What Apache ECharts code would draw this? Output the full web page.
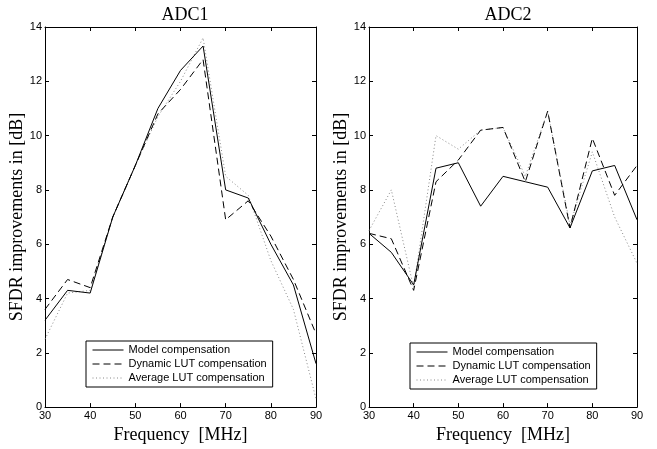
<!DOCTYPE html>
<html>
<head>
<meta charset="utf-8">
<script src="https://cdn.jsdelivr.net/npm/echarts@6/dist/echarts.min.js"></script>
<style>
  html, body { margin: 0; padding: 0; background: #fff; }
  #chart { width: 657px; height: 449px; }
</style>
</head>
<body>
<div id="chart"></div>
<script>
// Frequencies (MHz) at which SFDR improvement was measured
const freqs = [30, 35, 40, 45, 50, 55, 60, 65, 70, 75, 80, 85, 90];

// ADC1 SFDR improvements [dB]
const adc1Model   = [3.2, 4.3, 4.2, 7.0, 8.9, 11.0, 12.4, 13.3, 8.0, 7.7, 6.0, 4.5, 1.6];
const adc1Dynamic = [3.6, 4.7, 4.4, 7.0, 8.9, 10.8, 11.7, 12.8, 6.9, 7.6, 6.3, 4.7, 2.7];
const adc1Average = [2.5, 4.2, 4.3, 7.0, 8.9, 10.7, 12.0, 13.6, 8.5, 7.8, 5.4, 3.6, 0.3];

// ADC2 SFDR improvements [dB]
const adc2Model   = [6.4, 5.7, 4.5, 8.8, 9.0, 7.4, 8.5, 8.3, 8.1, 6.6, 8.7, 8.9, 6.9];
const adc2Dynamic = [6.4, 6.2, 4.3, 8.3, 9.1, 10.2, 10.3, 8.3, 10.9, 6.6, 9.9, 7.8, 8.9];
const adc2Average = [6.5, 8.0, 4.4, 10.0, 9.5, 10.2, 10.3, 8.5, 10.9, 6.7, 9.4, 7.0, 5.3];

const seriesNames = ['Model compensation', 'Dynamic LUT compensation', 'Average LUT compensation'];
const titles = ['ADC1', 'ADC2'];
const xName = 'Frequency  [MHz]';
const yName = 'SFDR improvements in [dB]';

const serif = 'Liberation Serif, Times New Roman, serif';
const sans = 'Liberation Sans, Arial, sans-serif';

const lineStyles = [
  { color: '#000', width: 1, type: 'solid' },
  { color: '#000', width: 1, type: [7, 4] },
  { color: '#888', width: 1, type: [1, 2.5] }
];

const grids = [
  { left: 45, right: 341, top: 27, bottom: 39 },
  { left: 369, right: 20, top: 27, bottom: 39 }
];

const xAxes = [], yAxes = [];
grids.forEach((g, i) => {
  // bottom axis with labels
  xAxes.push({
    type: 'value', gridIndex: i, min: 30, max: 90, interval: 10, position: 'bottom',
    name: xName, nameLocation: 'middle', nameGap: 12,
    nameTextStyle: { fontFamily: serif, fontSize: 18, color: '#000' },
    axisLine: { show: true, onZero: false, lineStyle: { color: '#000', width: 1 } },
    axisTick: { show: true, inside: true, length: 4, lineStyle: { color: '#000' } },
    axisLabel: { fontFamily: sans, fontSize: 11, color: '#000', margin: 3 },
    splitLine: { show: false }
  });
  // top box edge with ticks
  xAxes.push({
    type: 'value', gridIndex: i, min: 30, max: 90, interval: 10, position: 'top',
    axisLine: { show: true, onZero: false, lineStyle: { color: '#000', width: 1 } },
    axisTick: { show: true, inside: true, length: 4, lineStyle: { color: '#000' } },
    axisLabel: { show: false }, splitLine: { show: false }
  });
  yAxes.push({
    type: 'value', gridIndex: i, min: 0, max: 14, interval: 2, position: 'left',
    name: yName, nameLocation: 'middle', nameGap: 16, nameRotate: 90,
    nameTextStyle: { fontFamily: serif, fontSize: 18, color: '#000' },
    axisLine: { show: true, onZero: false, lineStyle: { color: '#000', width: 1 } },
    axisTick: { show: true, inside: true, length: 4, lineStyle: { color: '#000' } },
    axisLabel: { fontFamily: sans, fontSize: 11, color: '#000', margin: 3 },
    splitLine: { show: false }
  });
  // right box edge with ticks
  yAxes.push({
    type: 'value', gridIndex: i, min: 0, max: 14, interval: 2, position: 'right',
    axisLine: { show: true, onZero: false, lineStyle: { color: '#000', width: 1 } },
    axisTick: { show: true, inside: true, length: 4, lineStyle: { color: '#000' } },
    axisLabel: { show: false }, splitLine: { show: false }
  });
});

const pairs = vals => freqs.map((f, k) => [f, vals[k]]);
const panelData = [
  [adc1Model, adc1Dynamic, adc1Average],
  [adc2Model, adc2Dynamic, adc2Average]
];

const series = [];
panelData.forEach((sets, i) => {
  sets.forEach((vals, j) => {
    series.push({
      name: seriesNames[j], type: 'line',
      xAxisIndex: i * 2, yAxisIndex: i * 2,
      data: pairs(vals), symbol: 'none', silent: true,
      lineStyle: lineStyles[j], itemStyle: { color: lineStyles[j].color },
      z: 3 - j, animation: false
    });
  });
});

const legendBase = {
  orient: 'vertical', data: seriesNames,
  backgroundColor: '#fff', borderColor: '#000', borderWidth: 1, borderRadius: 0,
  padding: [3, 6, 3, 6], itemWidth: 31, itemHeight: 12, itemGap: 2,
  itemTextGap: 5, selectedMode: false,
  itemStyle: { opacity: 0 },
  lineStyle: { width: 1 },
  textStyle: { fontFamily: sans, fontSize: 11, color: '#000', lineHeight: 12 }
};

const chart = echarts.init(document.getElementById('chart'), null, { renderer: 'canvas' });
chart.setOption({
  animation: false,
  backgroundColor: '#fff',
  title: [
    { text: titles[0], left: 180, top: 1, textAlign: 'center',
      textStyle: { fontFamily: serif, fontSize: 18, fontWeight: 'normal', color: '#000' } },
    { text: titles[1], left: 503, top: 1, textAlign: 'center',
      textStyle: { fontFamily: serif, fontSize: 18, fontWeight: 'normal', color: '#000' } }
  ],
  grid: grids,
  xAxis: xAxes,
  yAxis: yAxes,
  legend: [
    Object.assign({}, legendBase, { left: 86, top: 341 }),
    Object.assign({}, legendBase, { left: 410, top: 343 })
  ],
  series: series
});
</script>
</body>
</html>
